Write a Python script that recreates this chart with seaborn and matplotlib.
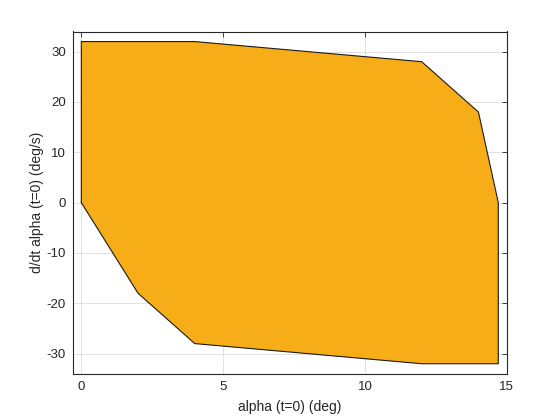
import matplotlib
matplotlib.use("Agg")
import matplotlib.pyplot as plt
import seaborn as sns
import pandas as pd

# polygon outline of the region (alpha, d/dt alpha) at t=0
alpha = [0, 0, 4, 12, 14, 14.7, 14.7, 12, 4, 2, 0]
alpha_rate = [0, 32, 32, 28, 18, 0, -32, -32, -28, -18, 0]

x_ticks = [0, 5, 10, 15]
y_ticks = [-30, -20, -10, 0, 10, 20, 30]

sns.set_theme(style="whitegrid")
plt.rcParams["font.family"] = ["Liberation Sans", "DejaVu Sans"]
plt.rcParams["axes.unicode_minus"] = False

df = pd.DataFrame({"alpha": alpha, "rate": alpha_rate})

fig = plt.figure(figsize=(5.6, 4.2), dpi=100)
ax = fig.add_axes([0.13, 0.11, 0.775, 0.815])

ax.fill(df["alpha"], df["rate"], facecolor="#F7AD18", edgecolor="none", zorder=2)
sns.lineplot(data=df, x="alpha", y="rate", sort=False, estimator=None,
             color="#1a1a1a", linewidth=0.8, ax=ax, zorder=3)

ax.set_xlim(-0.3, 15)
ax.set_ylim(-34, 34)
ax.set_xticks(x_ticks)
ax.set_yticks(y_ticks)

ax.set_facecolor("white")
ax.grid(True, color="#dcdcdc", linewidth=0.6)
ax.set_axisbelow(True)
for s in ax.spines.values():
    s.set_visible(True)
    s.set_color("#262626")
    s.set_linewidth(0.8)

ax.tick_params(direction="in", length=3.5, width=0.6, color="#262626",
               labelsize=9.5, labelcolor="#262626", top=True, right=True,
               labeltop=False, labelright=False, pad=5)

ax.set_xlabel("alpha (t=0) (deg)", fontsize=10, color="#262626", labelpad=5)
ax.set_ylabel("d/dt alpha (t=0) (deg/s)", fontsize=10, color="#262626", labelpad=2)

fig.savefig("out.png", dpi=100)
plt.close(fig)
